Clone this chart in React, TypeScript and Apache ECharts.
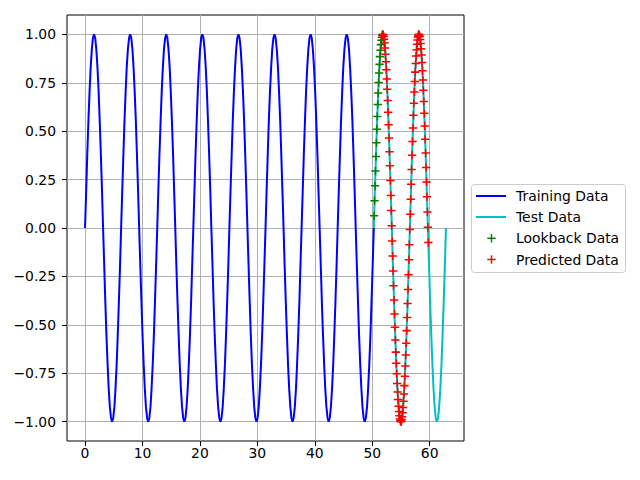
import { useEffect, useRef } from 'react';
import * as echarts from 'echarts';

// Training data (blue line)
const trainX = [
  0, 0.2, 0.39, 0.59, 0.79, 0.98, 1.18, 1.37, 1.57, 1.77, 1.96, 2.16, 2.36, 2.55, 2.75, 2.95,
  3.14, 3.34, 3.53, 3.73, 3.93, 4.12, 4.32, 4.52, 4.71, 4.91, 5.11, 5.3, 5.5, 5.69, 5.89, 6.09,
  6.28, 6.48, 6.68, 6.87, 7.07, 7.26, 7.46, 7.66, 7.85, 8.05, 8.25, 8.44, 8.64, 8.84, 9.03, 9.23,
  9.42, 9.62, 9.82, 10.01, 10.21, 10.41, 10.6, 10.8, 11.0, 11.19, 11.39, 11.58, 11.78, 11.98, 12.17, 12.37,
  12.57, 12.76, 12.96, 13.16, 13.35, 13.55, 13.74, 13.94, 14.14, 14.33, 14.53, 14.73, 14.92, 15.12, 15.32, 15.51,
  15.71, 15.9, 16.1, 16.3, 16.49, 16.69, 16.89, 17.08, 17.28, 17.48, 17.67, 17.87, 18.06, 18.26, 18.46, 18.65,
  18.85, 19.05, 19.24, 19.44, 19.63, 19.83, 20.03, 20.22, 20.42, 20.62, 20.81, 21.01, 21.21, 21.4, 21.6, 21.8,
  21.99, 22.19, 22.38, 22.58, 22.78, 22.97, 23.17, 23.37, 23.56, 23.76, 23.96, 24.15, 24.35, 24.54, 24.74, 24.94,
  25.13, 25.33, 25.53, 25.72, 25.92, 26.12, 26.31, 26.51, 26.7, 26.9, 27.1, 27.29, 27.49, 27.69, 27.88, 28.08,
  28.27, 28.47, 28.67, 28.86, 29.06, 29.26, 29.45, 29.65, 29.85, 30.04, 30.24, 30.43, 30.63, 30.83, 31.02, 31.22,
  31.42, 31.61, 31.81, 32.0, 32.2, 32.4, 32.59, 32.79, 32.99, 33.18, 33.38, 33.58, 33.77, 33.97, 34.16, 34.36,
  34.56, 34.75, 34.95, 35.15, 35.34, 35.54, 35.74, 35.93, 36.13, 36.32, 36.52, 36.72, 36.91, 37.11, 37.31, 37.5,
  37.7, 37.9, 38.09, 38.29, 38.48, 38.68, 38.88, 39.07, 39.27, 39.47, 39.66, 39.86, 40.06, 40.25, 40.45, 40.64,
  40.84, 41.04, 41.23, 41.43, 41.63, 41.82, 42.02, 42.22, 42.41, 42.61, 42.8, 43.0, 43.2, 43.39, 43.59, 43.79,
  43.98, 44.18, 44.38, 44.57, 44.77, 44.96, 45.16, 45.36, 45.55, 45.75, 45.95, 46.14, 46.34, 46.54, 46.73, 46.93,
  47.12, 47.32, 47.52, 47.71, 47.91, 48.11, 48.3, 48.5, 48.69, 48.89, 49.09, 49.28, 49.48, 49.68, 49.87, 50.07,
  50.27,
];
const trainY = [
  0, 0.195, 0.383, 0.556, 0.707, 0.831, 0.924, 0.981, 1, 0.981, 0.924, 0.831, 0.707, 0.556, 0.383, 0.195,
  0, -0.195, -0.383, -0.556, -0.707, -0.831, -0.924, -0.981, -1, -0.981, -0.924, -0.831, -0.707, -0.556, -0.383, -0.195,
  0, 0.195, 0.383, 0.556, 0.707, 0.831, 0.924, 0.981, 1, 0.981, 0.924, 0.831, 0.707, 0.556, 0.383, 0.195,
  0, -0.195, -0.383, -0.556, -0.707, -0.831, -0.924, -0.981, -1, -0.981, -0.924, -0.831, -0.707, -0.556, -0.383, -0.195,
  0, 0.195, 0.383, 0.556, 0.707, 0.831, 0.924, 0.981, 1, 0.981, 0.924, 0.831, 0.707, 0.556, 0.383, 0.195,
  0, -0.195, -0.383, -0.556, -0.707, -0.831, -0.924, -0.981, -1, -0.981, -0.924, -0.831, -0.707, -0.556, -0.383, -0.195,
  0, 0.195, 0.383, 0.556, 0.707, 0.831, 0.924, 0.981, 1, 0.981, 0.924, 0.831, 0.707, 0.556, 0.383, 0.195,
  0, -0.195, -0.383, -0.556, -0.707, -0.831, -0.924, -0.981, -1, -0.981, -0.924, -0.831, -0.707, -0.556, -0.383, -0.195,
  0, 0.195, 0.383, 0.556, 0.707, 0.831, 0.924, 0.981, 1, 0.981, 0.924, 0.831, 0.707, 0.556, 0.383, 0.195,
  0, -0.195, -0.383, -0.556, -0.707, -0.831, -0.924, -0.981, -1, -0.981, -0.924, -0.831, -0.707, -0.556, -0.383, -0.195,
  0, 0.195, 0.383, 0.556, 0.707, 0.831, 0.924, 0.981, 1, 0.981, 0.924, 0.831, 0.707, 0.556, 0.383, 0.195,
  0, -0.195, -0.383, -0.556, -0.707, -0.831, -0.924, -0.981, -1, -0.981, -0.924, -0.831, -0.707, -0.556, -0.383, -0.195,
  0, 0.195, 0.383, 0.556, 0.707, 0.831, 0.924, 0.981, 1, 0.981, 0.924, 0.831, 0.707, 0.556, 0.383, 0.195,
  0, -0.195, -0.383, -0.556, -0.707, -0.831, -0.924, -0.981, -1, -0.981, -0.924, -0.831, -0.707, -0.556, -0.383, -0.195,
  0, 0.195, 0.383, 0.556, 0.707, 0.831, 0.924, 0.981, 1, 0.981, 0.924, 0.831, 0.707, 0.556, 0.383, 0.195,
  0, -0.195, -0.383, -0.556, -0.707, -0.831, -0.924, -0.981, -1, -0.981, -0.924, -0.831, -0.707, -0.556, -0.383, -0.195,
  0,
];

// Test data (cyan line)
const testX = [
  50.27, 50.46, 50.66, 50.85, 51.05, 51.25, 51.44, 51.64, 51.84, 52.03, 52.23, 52.43, 52.62, 52.82, 53.01, 53.21,
  53.41, 53.6, 53.8, 54.0, 54.19, 54.39, 54.59, 54.78, 54.98, 55.17, 55.37, 55.57, 55.76, 55.96, 56.16, 56.35,
  56.55, 56.75, 56.94, 57.14, 57.33, 57.53, 57.73, 57.92, 58.12, 58.32, 58.51, 58.71, 58.9, 59.1, 59.3, 59.49,
  59.69, 59.89, 60.08, 60.28, 60.48, 60.67, 60.87, 61.06, 61.26, 61.46, 61.65, 61.85, 62.05, 62.24, 62.44, 62.64,
  62.83,
];
const testY = [
  0, 0.195, 0.383, 0.556, 0.707, 0.831, 0.924, 0.981, 1, 0.981, 0.924, 0.831, 0.707, 0.556, 0.383, 0.195,
  0, -0.195, -0.383, -0.556, -0.707, -0.831, -0.924, -0.981, -1, -0.981, -0.924, -0.831, -0.707, -0.556, -0.383, -0.195,
  0, 0.195, 0.383, 0.556, 0.707, 0.831, 0.924, 0.981, 1, 0.981, 0.924, 0.831, 0.707, 0.556, 0.383, 0.195,
  0, -0.195, -0.383, -0.556, -0.707, -0.831, -0.924, -0.981, -1, -0.981, -0.924, -0.831, -0.707, -0.556, -0.383, -0.195,
  0,
];

// Lookback data (green +)
const lookbackX = [
  50.328, 50.407, 50.485, 50.564, 50.643, 50.721, 50.8, 50.879, 50.957, 51.036,
  51.115, 51.193, 51.272, 51.35, 51.429, 51.508, 51.586, 51.665, 51.744, 51.822,
];
const lookbackY = [
  0.063, 0.141, 0.218, 0.294, 0.369, 0.44, 0.51, 0.576, 0.638, 0.697,
  0.751, 0.8, 0.845, 0.885, 0.918, 0.947, 0.969, 0.985, 0.996, 1.0,
];

// Predicted data (red +)
const predX = [
  51.901, 51.98, 52.058, 52.137, 52.215, 52.294, 52.373, 52.451, 52.53, 52.609,
  52.687, 52.766, 52.844, 52.923, 53.002, 53.08, 53.159, 53.238, 53.316, 53.395,
  53.474, 53.552, 53.631, 53.709, 53.788, 53.867, 53.945, 54.024, 54.103, 54.181,
  54.26, 54.339, 54.417, 54.496, 54.574, 54.653, 54.732, 54.81, 54.889, 54.968,
  55.046, 55.125, 55.204, 55.282, 55.361, 55.439, 55.518, 55.597, 55.675, 55.754,
  55.833, 55.911, 55.99, 56.069, 56.147, 56.226, 56.304, 56.383, 56.462, 56.54,
  56.619, 56.698, 56.776, 56.855, 56.934, 57.012, 57.091, 57.169, 57.248, 57.327,
  57.405, 57.484, 57.563, 57.641, 57.72, 57.799, 57.877, 57.956, 58.034, 58.113,
  58.192, 58.27, 58.349, 58.428, 58.506, 58.585, 58.664, 58.742, 58.821, 58.899,
  58.978, 59.057, 59.135, 59.214, 59.293, 59.371, 59.45, 59.529, 59.607, 59.686,
  59.765,
];
const predY = [
  0.998, 0.99, 0.975, 0.955, 0.929, 0.897, 0.859, 0.817, 0.769, 0.716,
  0.659, 0.598, 0.533, 0.465, 0.394, 0.321, 0.245, 0.168, 0.09, 0.012,
  -0.067, -0.145, -0.222, -0.298, -0.372, -0.444, -0.513, -0.579, -0.641, -0.699,
  -0.753, -0.803, -0.847, -0.886, -0.92, -0.948, -0.97, -0.986, -0.996, -1.0,
  -0.998, -0.989, -0.975, -0.954, -0.927, -0.895, -0.857, -0.814, -0.766, -0.713,
  -0.656, -0.595, -0.53, -0.462, -0.39, -0.317, -0.241, -0.164, -0.086, -0.008,
  0.071, 0.149, 0.226, 0.302, 0.376, 0.447, 0.516, 0.582, 0.644, 0.702,
  0.756, 0.805, 0.849, 0.888, 0.921, 0.949, 0.971, 0.987, 0.996, 1.0,
  0.997, 0.989, 0.974, 0.953, 0.926, 0.893, 0.855, 0.812, 0.764, 0.711,
  0.653, 0.592, 0.527, 0.458, 0.387, 0.313, 0.238, 0.161, 0.083, 0.004,
  -0.075,
];

const xTicks = [0, 10, 20, 30, 40, 50, 60];
const yTicks = [-1, -0.75, -0.5, -0.25, 0, 0.25, 0.5, 0.75, 1];
const seriesNames = ['Training Data', 'Test Data', 'Lookback Data', 'Predicted Data'];
const seriesColors = ['#0000ff', '#00bfbf', '#008000', '#ff0000'];

const zip = (xs: number[], ys: number[]) => xs.map((x, i) => [x, ys[i]]);

const FONT = 'DejaVu Sans';
const FS = 13.9;
// filled cross ("+") outline, arm thickness ~1.5px at ~8.3px size
const PLUS =
  'path://M3.27,0L4.73,0L4.73,3.27L8,3.27L8,4.73L4.73,4.73L4.73,8L3.27,8L3.27,4.73L0,4.73L0,3.27L3.27,3.27Z';

export default function App() {
  const ref = useRef<HTMLDivElement>(null);

  useEffect(() => {
    if (!ref.current) return;
    const chart = echarts.init(ref.current, null, { renderer: 'svg' });

    const legendRowsY = [196, 217, 238.3, 259.5];
    const legendEls: any[] = [
      {
        type: 'rect',
        shape: { x: 471.5, y: 184.5, width: 154, height: 88, r: 3 },
        style: { fill: 'rgba(255,255,255,0.8)', stroke: '#cccccc', lineWidth: 1 },
        z: 100,
      },
    ];
    seriesNames.forEach((name, i) => {
      const cy = legendRowsY[i];
      if (i < 2) {
        legendEls.push({
          type: 'line',
          shape: { x1: 476, y1: cy, x2: 506, y2: cy },
          style: { stroke: seriesColors[i], lineWidth: 2 },
          z: 101,
        });
      } else {
        legendEls.push({
          type: 'line',
          shape: { x1: 487.3, y1: cy, x2: 495.7, y2: cy },
          style: { stroke: seriesColors[i], lineWidth: 1.5 },
          z: 101,
        });
        legendEls.push({
          type: 'line',
          shape: { x1: 491.5, y1: cy - 4.2, x2: 491.5, y2: cy + 4.2 },
          style: { stroke: seriesColors[i], lineWidth: 1.5 },
          z: 101,
        });
      }
      legendEls.push({
        type: 'text',
        x: 516,
        y: cy,
        style: {
          text: name,
          fill: '#000',
          fontSize: FS,
          fontFamily: FONT,
          verticalAlign: 'middle',
          align: 'left',
        },
        z: 101,
      });
    });

    chart.setOption({
      animation: false,
      backgroundColor: '#ffffff',
      grid: {
        show: true,
        left: 67,
        top: 15,
        width: 397,
        height: 426,
        borderColor: '#000',
        borderWidth: 1,
        backgroundColor: 'transparent',
        containLabel: false,
      },
      xAxis: {
        type: 'value',
        min: -3.1416,
        max: 65.9734,
        axisLine: { show: false, onZero: false },
        axisTick: {
          show: true,
          length: 5,
          lineStyle: { color: '#000', width: 1 },
          customValues: xTicks,
        },
        axisLabel: {
          customValues: xTicks,
          margin: 5,
          color: '#000',
          fontSize: FS,
          fontFamily: FONT,
        },
        splitLine: { show: true, lineStyle: { color: '#b0b0b0', width: 1 } },
      },
      yAxis: {
        type: 'value',
        min: -1.1,
        max: 1.1,
        axisLine: { show: false, onZero: false },
        axisTick: {
          show: true,
          length: 5,
          lineStyle: { color: '#000', width: 1 },
          customValues: yTicks,
        },
        axisLabel: {
          customValues: yTicks,
          margin: 11,
          color: '#000',
          fontSize: FS,
          fontFamily: FONT,
          formatter: (v: number) => v.toFixed(2).replace('-', '\u2212'),
        },
        splitLine: { show: true, lineStyle: { color: '#b0b0b0', width: 1 } },
      },
      series: [
        {
          name: seriesNames[0],
          type: 'line',
          data: zip(trainX, trainY),
          showSymbol: false,
          lineStyle: { color: seriesColors[0], width: 2 },
          silent: true,
          z: 2,
        },
        {
          name: seriesNames[1],
          type: 'line',
          data: zip(testX, testY),
          showSymbol: false,
          lineStyle: { color: seriesColors[1], width: 2 },
          silent: true,
          z: 2,
        },
        {
          name: seriesNames[2],
          type: 'scatter',
          data: zip(lookbackX, lookbackY),
          symbol: PLUS,
          symbolSize: 8.3,
          itemStyle: { color: seriesColors[2], borderWidth: 0, opacity: 1 },
          silent: true,
          z: 5,
        },
        {
          name: seriesNames[3],
          type: 'scatter',
          data: zip(predX, predY),
          symbol: PLUS,
          symbolSize: 8.3,
          itemStyle: { color: seriesColors[3], borderWidth: 0, opacity: 1 },
          silent: true,
          z: 6,
        },
      ],
      graphic: { elements: legendEls },
    });

    return () => chart.dispose();
  }, []);

  return (
    <div
      ref={ref}
      style={{ position: 'absolute', left: 0, top: 0, width: 640, height: 480, background: '#fff' }}
    />
  );
}
